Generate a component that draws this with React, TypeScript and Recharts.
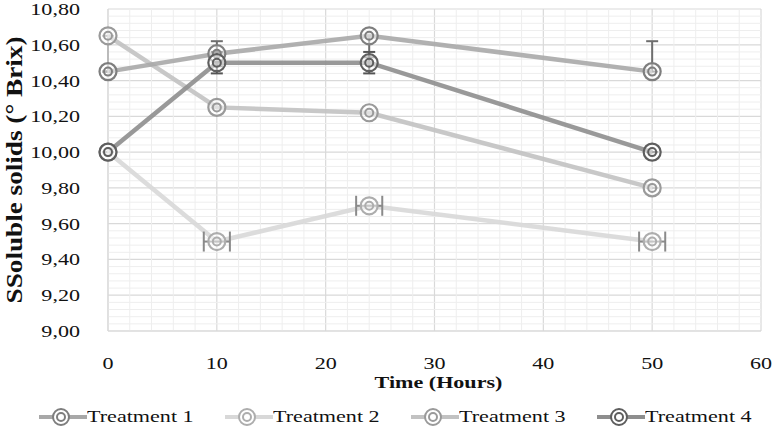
import {
  CartesianGrid,
  ComposedChart,
  ErrorBar,
  Legend,
  Line,
  ReferenceLine,
  Scatter,
  XAxis,
  YAxis,
} from "recharts";

const hours = [0, 10, 24, 50];

const treatment1 = [10.45, 10.55, 10.65, 10.45];
const treatment2 = [10.0, 9.5, 9.7, 9.5];
const treatment3 = [10.65, 10.25, 10.22, 9.8];
const treatment4 = [10.0, 10.5, 10.5, 10.0];

// [below, above]
const treatment1Err = [[0, 0], [0.07, 0.07], [0.12, 0], [0, 0.17]];
const treatment2ErrX = [0, 1.2, 1.2, 1.2];
const treatment3Err = [[0.2, 0], [0, 0], [0, 0], [0, 0]];
const treatment4Err = [[0, 0], [0.06, 0.06], [0.06, 0.06], [0, 0]];

const xTicks = [0, 10, 20, 30, 40, 50, 60];
const yTicks = [9.0, 9.2, 9.4, 9.6, 9.8, 10.0, 10.2, 10.4, 10.6, 10.8];

const xMinor = Array.from({ length: 31 }, (_, i) => i * 2).filter((v) => v % 10 !== 0);
const yMinor = Array.from({ length: 46 }, (_, i) => +(9 + i * 0.04).toFixed(2)).filter(
  (v) => Math.round(v * 100) % 20 !== 0
);

const series = [
  { name: "Treatment 1", values: treatment1, color: "#a8a8a8", ring: "#7e7e7e" },
  { name: "Treatment 2", values: treatment2, color: "#d8d8d8", ring: "#adadad" },
  { name: "Treatment 3", values: treatment3, color: "#c2c2c2", ring: "#9a9a9a" },
  { name: "Treatment 4", values: treatment4, color: "#8e8e8e", ring: "#5e5e5e" },
];

const rows = (values: number[], err?: number[][], errX?: number[]) =>
  hours.map((h, i) => ({
    hours: h,
    value: values[i],
    err: err ? err[i] : undefined,
    errX: errX ? errX[i] : undefined,
  }));

const FONT = "Liberation Serif, DejaVu Serif, serif";

const ringDot = (color: string) => (props: any) => {
  const { cx, cy, index } = props;
  if (cx == null || cy == null) return <g key={index} />;
  return (
    <g key={index}>
      <circle cx={cx} cy={cy} r={8.5} fill="#fff" fillOpacity={0.5} stroke={color} strokeWidth={2.2} />
      <circle cx={cx} cy={cy} r={4} fill="none" stroke={color} strokeWidth={2} />
    </g>
  );
};

const XTick = ({ x, y, payload }: any) => (
  <text
    transform={`translate(${x},${y + 24}) scale(1.3,1)`}
    textAnchor="middle"
    dominantBaseline="central"
    fontFamily={FONT}
    fontSize={17}
    fill="#111"
  >
    {payload.value}
  </text>
);

const YTick = ({ x, y, payload }: any) => (
  <text
    transform={`translate(${x - 20},${y}) scale(1.3,1)`}
    textAnchor="end"
    dominantBaseline="central"
    fontFamily={FONT}
    fontSize={17}
    fill="#111"
  >
    {Number(payload.value).toFixed(2).replace(".", ",")}
  </text>
);

const LegendContent = () => (
  <div
    style={{
      display: "flex",
      justifyContent: "center",
      gap: 26,
      fontFamily: FONT,
      fontSize: 17,
      color: "#111",
      paddingLeft: 34,
    }}
  >
    {series.map((s) => (
      <div key={s.name} style={{ display: "flex", alignItems: "center" }}>
        <svg width={48} height={20}>
          <line x1={0} y1={10} x2={48} y2={10} stroke={s.color} strokeWidth={4} />
          <circle cx={22} cy={10} r={8} fill="#fff" stroke={s.ring} strokeWidth={2} />
          <circle cx={22} cy={10} r={4} fill="none" stroke={s.ring} strokeWidth={2} />
        </svg>
        <span style={{ display: "inline-block", transform: "scaleX(1.3)", transformOrigin: "left center", width: 112 }}>
          {s.name}
        </span>
      </div>
    ))}
  </div>
);

export default function App() {
  return (
    <div style={{ position: "absolute", left: 0, top: 0, background: "#fff" }}>
      <ComposedChart width={774} height={439} margin={{ top: 9, right: 13, left: 0, bottom: 2 }}>
        <CartesianGrid stroke="#d9d9d9" strokeWidth={1.2} />
        {xMinor.map((v) => (
          <ReferenceLine key={"x" + v} x={v} stroke="#eeeeee" strokeWidth={1} />
        ))}
        {yMinor.map((v) => (
          <ReferenceLine key={"y" + v} y={v} stroke="#eeeeee" strokeWidth={1} />
        ))}
        <XAxis
          type="number"
          dataKey="hours"
          domain={[0, 60]}
          ticks={xTicks}
          height={76}
          tickLine={false}
          axisLine={{ stroke: "#d9d9d9" }}
          tick={<XTick />}
          label={({ viewBox }: any) => (
            <text
              transform={`translate(${viewBox.x + viewBox.width / 2 + 4},${viewBox.y + 51}) scale(1.3,1)`}
              textAnchor="middle"
              dominantBaseline="central"
              fontFamily={FONT}
              fontSize={17}
              fontWeight="bold"
              fill="#111"
            >
              Time (Hours)
            </text>
          )}
        />
        <YAxis
          type="number"
          domain={[9, 10.8]}
          ticks={yTicks}
          width={108}
          tickLine={false}
          axisLine={{ stroke: "#d9d9d9" }}
          tick={<YTick />}
          label={({ viewBox }: any) => (
            <text
              transform={`translate(14,${viewBox.y + viewBox.height / 2}) rotate(-90) scale(1.6,1.3)`}
              textAnchor="middle"
              dominantBaseline="central"
              fontFamily={FONT}
              fontSize={17}
              fontWeight="bold"
              fill="#111"
            >
              SSoluble solids (° Brix)
            </text>
          )}
        />
        <Legend verticalAlign="bottom" height={30} content={<LegendContent />} />
        <Line
          data={rows(treatment2)}
          dataKey="value"
          name="Treatment 2"
          stroke={series[1].color}
          strokeWidth={4.5}
          strokeOpacity={0.9}
          dot={ringDot(series[1].ring)}
          isAnimationActive={false}
        />
        <Scatter
          data={rows(treatment2, undefined, treatment2ErrX)}
          dataKey="value"
          legendType="none"
          shape={() => <g />}
          isAnimationActive={false}
        >
          <ErrorBar dataKey="errX" direction="x" width={10} stroke="#8a8a8a" strokeWidth={2} />
        </Scatter>
        <Line
          data={rows(treatment3, treatment3Err)}
          dataKey="value"
          name="Treatment 3"
          stroke={series[2].color}
          strokeWidth={4.5}
          strokeOpacity={0.9}
          dot={ringDot(series[2].ring)}
          isAnimationActive={false}
        >
          <ErrorBar dataKey="err" direction="y" width={6} stroke="#9c9c9c" strokeWidth={2} />
        </Line>
        <Line
          data={rows(treatment1, treatment1Err)}
          dataKey="value"
          name="Treatment 1"
          stroke={series[0].color}
          strokeWidth={4.5}
          strokeOpacity={0.9}
          dot={ringDot(series[0].ring)}
          isAnimationActive={false}
        >
          <ErrorBar dataKey="err" direction="y" width={6} stroke="#6e6e6e" strokeWidth={2} />
        </Line>
        <Line
          data={rows(treatment4, treatment4Err)}
          dataKey="value"
          name="Treatment 4"
          stroke={series[3].color}
          strokeWidth={4.5}
          strokeOpacity={0.9}
          dot={ringDot(series[3].ring)}
          isAnimationActive={false}
        >
          <ErrorBar dataKey="err" direction="y" width={6} stroke="#555" strokeWidth={2} />
        </Line>
      </ComposedChart>
    </div>
  );
}
